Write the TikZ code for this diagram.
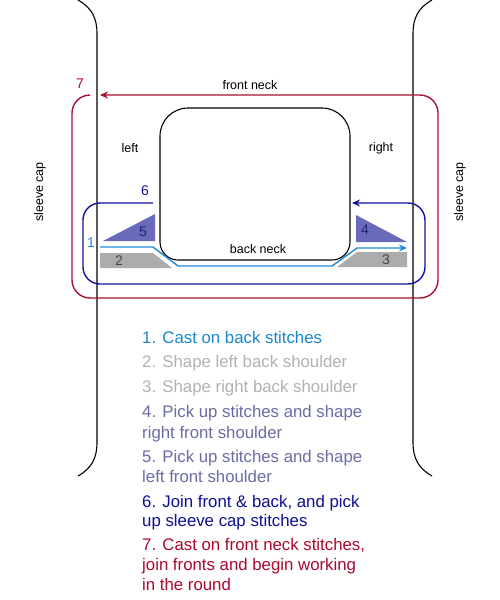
\documentclass[tikz,border=0pt]{standalone}
\usepackage{fontspec}
\setmainfont{Liberation Sans}
\usetikzlibrary{arrows.meta}
\definecolor{redseven}{RGB}{168,16,48}
\definecolor{navysix}{RGB}{18,18,160}
\definecolor{slatefill}{RGB}{106,106,186}
\definecolor{slatenum}{RGB}{34,34,120}
\definecolor{cyanone}{RGB}{30,140,215}
\definecolor{grayfill}{RGB}{172,172,172}
\definecolor{graynum}{RGB}{70,70,70}
\definecolor{listone}{RGB}{25,135,200}
\definecolor{listgray}{RGB}{178,178,178}
\definecolor{listslate}{RGB}{108,108,165}
\definecolor{listnavy}{RGB}{15,15,150}
\definecolor{listred}{RGB}{170,10,45}
\tikzset{
  lbl/.style={inner sep=0pt, font=\fontsize{12.5}{14}\selectfont},
  num/.style={inner sep=0pt, font=\fontsize{14}{16}\selectfont},
  item/.style={inner sep=0pt, anchor=base west, font=\fontsize{16.8}{20}\selectfont},
  sideline/.style={draw=black, line width=1.1pt},
  tip/.style={-{Stealth[length=8pt,width=7pt]}}
}
\begin{document}
\begin{tikzpicture}[x=1pt,y=-1pt]
\useasboundingbox[fill=white] (0,0) rectangle (500,600);
% sleeve side lines
\draw[sideline] (78,0) .. controls (92,8) and (97,18) .. (97,34) -- (97,442) .. controls (97,458) and (92,468) .. (78,476);
\draw[sideline] (432,0) .. controls (418,8) and (413,18) .. (413,34) -- (413,442) .. controls (413,458) and (418,468) .. (432,476);
\node[lbl, rotate=90] (scl) at (40,192) {sleeve cap};
\node[lbl, rotate=90] (scr) at (460,192) {sleeve cap};
% neck opening
\draw[line width=1.1pt] (160,180) [rounded corners=28] -- (160,108) -- (350,108) -- (350,180) [rounded corners=18] -- (350,260) -- (160,260) -- (160,180);
\node[lbl] (fn) at (250,85) {front neck};
\node[lbl] (lf) at (130,148) {left};
\node[lbl] (rt) at (381,148) {right};
\node[lbl] (bn) at (258,249) {back neck};
% shoulders
\fill[grayfill] (100,253) -- (153,253) -- (172,268) -- (100,268) -- cycle;
\fill[grayfill] (357,252) -- (407,252) -- (407,267) -- (337,267) -- cycle;
\fill[slatefill] (103,241) -- (155,241) -- (155,214) -- cycle;
\fill[slatefill] (356,215) -- (356,242) -- (407,242) -- cycle;
\node[num, text=graynum] (n2) at (119,261) {2};
\node[num, text=graynum] (n3) at (386,260) {3};
\node[num, text=slatenum] (n5) at (143,232) {5};
\node[num, text=slatenum] (n4) at (365,230) {4};
% step 1
\coordinate (c1s) at (100,247);
\coordinate (c1e) at (407,248);
\draw[cyanone, line width=1.4pt, tip] (c1s) -- (153,247) -- (178,266) -- (332,266) -- (357,248) -- (c1e);
\node[num, text=cyanone] (n1) at (91,243) {1};
% step 6
\coordinate (c6s) at (153,203);
\coordinate (c6e) at (352,203);
\draw[navysix, line width=1.4pt, tip, rounded corners=17] (c6s) -- (83,203) -- (83,284) -- (425,284) -- (425,203) -- (c6e);
\node[num, text=navysix] (n6) at (145,191) {6};
% step 7
\coordinate (c7s) at (90,95);
\coordinate (c7e) at (100,95);
\draw[redseven, line width=1.4pt, tip, rounded corners=18] (c7s) -- (72,95) -- (72,298) -- (438,298) -- (438,95) -- (c7e);
\node[num, text=redseven] (n7) at (80,84) {7};
% list
\node[item, text=listone] (l1) at (142,343) {1. Cast on back stitches};
\node[item, text=listgray] (l2) at (142,367) {2. Shape left back shoulder};
\node[item, text=listgray] (l3) at (142,392) {3. Shape right back shoulder};
\node[item, text=listslate] (l4a) at (142,417) {4. Pick up stitches and shape};
\node[item, text=listslate] (l4b) at (142,438) {right front shoulder};
\node[item, text=listslate] (l5a) at (142,462) {5. Pick up stitches and shape};
\node[item, text=listslate] (l5b) at (142,482) {left front shoulder};
\node[item, text=listnavy] (l6a) at (142,507) {6. Join front \& back, and pick};
\node[item, text=listnavy] (l6b) at (142,526) {up sleeve cap stitches};
\node[item, text=listred] (l7a) at (142,550) {7. Cast on front neck stitches,};
\node[item, text=listred] (l7b) at (142,570) {join fronts and begin working};
\node[item, text=listred] (l7c) at (142,590) {in the round};
\end{tikzpicture}
\end{document}
